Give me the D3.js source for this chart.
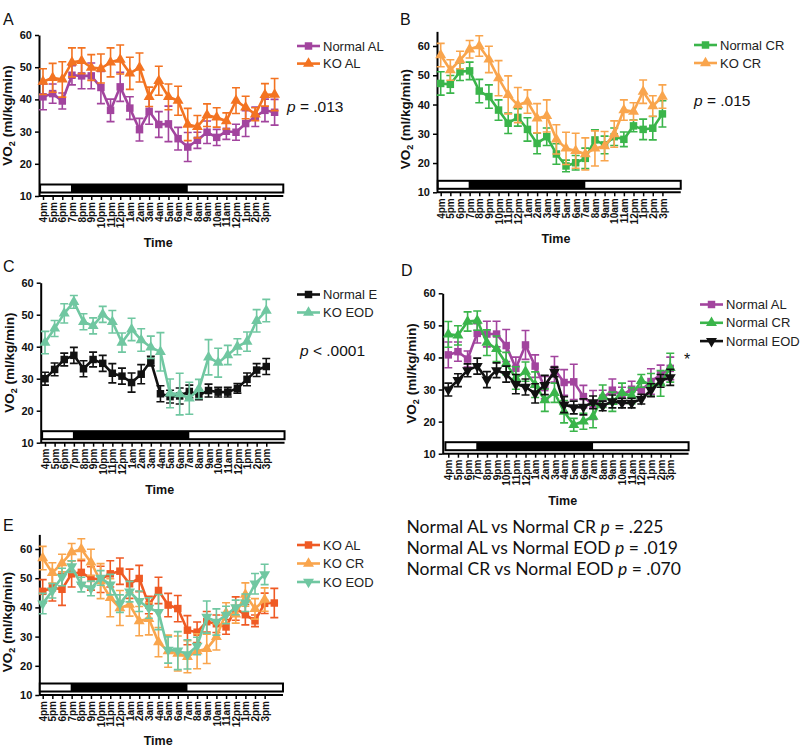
<!DOCTYPE html>
<html><head><meta charset="utf-8">
<script src="https://cdn.jsdelivr.net/npm/d3@7"></script>
<style>body{margin:0;background:#fff}svg{display:block;font-family:"Liberation Sans",Arial,sans-serif}</style>
</head><body><svg id="c" width="800" height="748"></svg>
<script>
const hours = ["4pm","5pm","6pm","7pm","8pm","9pm","10pm","11pm","12pm","1am","2am","3am","4am","5am","6am","7am","8am","9am","10am","11am","12pm","1pm","2pm","3pm"];
const yTicks = [10,20,30,40,50,60];

const normalAL    = [40.8,41.8,39.5,47.5,47.3,47.3,43.7,36.6,43.9,37.3,30.6,36.3,32.2,32.4,27.8,25.2,27.3,29.8,28.2,30.1,29.8,32.5,34.6,36.6,36.0];
const normalALsem = [4,3,2.5,3,4,4,5,3.5,4.5,3.5,3.5,4,4,5.5,3.5,4.5,2.5,3.5,2.5,2.5,2.5,4,3,3.5,4];
const koAL        = [45.5,46.7,46.2,51.5,52.0,49.9,49.6,51.5,52.4,48.1,49.9,40.8,45.8,40.8,39.6,32.2,31.5,35.1,34.4,33.3,39.6,37.5,35.4,41.4,41.5];
const koALsem     = [4,4.5,5.5,4.5,4,4,4.5,4.5,4.5,5,4.5,3,4.5,4,4.5,5,3.5,3.5,3,2.5,4,3.5,2,3.5,5];
const normalCR    = [47.2,46.9,51.2,51.5,44.6,42.7,38.1,33.6,35.6,31.5,26.7,29.0,23.1,19.0,20.1,21.6,27.9,26.2,29.0,28.1,32.7,31.5,31.9,36.8];
const normalCRsem = [4,3,3,3,4,4,3.5,3.5,3,4,3.5,3,3.5,2,2.5,3.5,3.5,3,3,2.5,2,3.5,4,4.5];
const koCR        = [56.9,51.8,55.2,58.9,60.0,55.4,49.0,43.3,39.8,41.0,35.3,36.1,28.1,25.0,24.2,23.1,25.0,25.8,29.9,38.1,37.6,44.4,39.5,42.7];
const koCRsem     = [4,3.5,3,3,3.5,4.5,6,6.5,6,4,5,5.5,5,5.5,6,5.5,6,5,4.5,3.5,3,4,3.5,4];
const normalEOD   = [30.0,32.9,36.0,37.3,33.1,36.0,34.8,31.7,30.8,28.8,31.4,35.5,25.3,24.4,24.6,26.0,24.9,26.3,25.8,25.8,27.0,29.8,32.7,33.8];
const normalEODsem= [2,2,2,2.5,2.5,2.3,2.5,3,2.5,3,3,1.5,2.5,2,2.5,2,1.5,2,1.5,1.5,1.5,2,2,2.5];
const koEOD       = [41.3,45.7,50.4,54.0,47.8,46.5,50.1,47.8,41.3,45.4,42.1,39.8,38.4,25.4,25.2,23.9,26.8,36.7,35.0,37.4,40.0,41.6,48.1,51.3];
const koEODsem    = [3.5,2.5,3,2,2.5,2.5,2.5,3.5,3,3.5,3.5,3.5,6,4.5,6.5,5,3,5.5,4.5,3,2.5,3,3.5,3.5];

const svg = d3.select("#c");
const C = {purple:"#A2449E", orangeA:"#F37321", green:"#3AB54A", orangeL:"#F9A54D", teal:"#70C7A1", black:"#111", red:"#EF5A24"};

function sym(shape){
  if(shape==="square") return d3.symbol(d3.symbolSquare, 56)();
  return d3.symbol(d3.symbolTriangle, 52)();
}
function symRot(shape){ return shape==="down" ? " rotate(180)" : ""; }

function panel(cfg){
  const g = svg.append("g");
  const y60 = cfg.y60, y10 = cfg.y10;
  const yTop = y10 + (y60 - y10) * (cfg.max - 10) / 50;
  const y = d3.scaleLinear().domain([10, cfg.max]).range([y10, yTop]);
  const x = d3.scaleLinear().domain([0, 23]).range([cfg.x0, cfg.x0 + 23 * cfg.step]);

  g.append("text").attr("x", cfg.letterX).attr("y", cfg.letterY).attr("font-size", 16).attr("fill","#111").text(cfg.letter);

  const ya = g.append("g").attr("transform", `translate(${cfg.ax},0)`)
    .call(d3.axisLeft(y).tickValues(yTicks).tickSize(4).tickSizeOuter(0).tickPadding(3));
  ya.select(".domain").attr("stroke","#000").attr("stroke-width",2);
  ya.selectAll(".tick line").attr("stroke","#000").attr("stroke-width",1.5);
  ya.selectAll(".tick text").attr("font-size",11).attr("font-weight","bold").attr("fill","#111").attr("font-family",'"Liberation Sans",Arial,sans-serif');

  const yt = g.append("text").attr("transform", `translate(${cfg.ax - 27},${(y10 + y60)/2}) rotate(-90)`)
    .attr("text-anchor","middle").attr("font-size",13.5).attr("font-weight","bold").attr("fill","#111");
  yt.append("tspan").text("VO");
  yt.append("tspan").attr("font-size",9).attr("dy",3).text("2");
  yt.append("tspan").attr("dy",-3).text(" (ml/kg/min)");

  const xa = g.append("g").attr("transform", `translate(0,${y10})`)
    .call(d3.axisBottom(x).tickValues(d3.range(24)).tickFormat(i => hours[i]).tickSize(4).tickSizeOuter(0));
  xa.select(".domain").attr("d", `M${cfg.ax},0H${x(24.9)}`).attr("stroke","#000").attr("stroke-width",2);
  xa.selectAll(".tick line").attr("stroke","#000").attr("stroke-width",1.5);
  xa.selectAll(".tick text").attr("transform","rotate(-90)").attr("text-anchor","end")
    .attr("x",-6).attr("y",0).attr("dy","0.36em").attr("font-size",10).attr("font-weight","bold").attr("fill","#111")
    .attr("font-family",'"Liberation Sans",Arial,sans-serif');

  g.append("text").attr("x", (cfg.ax + x(24.9))/2 - 3).attr("y", y10 + (cfg.timeDy || 51)).attr("text-anchor","middle")
    .attr("font-size",12.5).attr("font-weight","bold").attr("fill","#111").text("Time");

  const bt = y10 - 11.5, bh = 8;
  g.append("rect").attr("x", x(-0.3)).attr("y", bt).attr("width", x(24.9) - x(-0.3)).attr("height", bh)
    .attr("fill","#fff").attr("stroke","#000").attr("stroke-width",2);
  g.append("rect").attr("x", x(2.9)).attr("y", bt).attr("width", x(15) - x(2.9)).attr("height", bh).attr("fill","#000");

  cfg.series.forEach(s => {
    const vals = s.values.slice(0, s.n || s.values.length);
    const sem = s.sem.slice(0, vals.length);
    const sg = g.append("g");
    vals.forEach((v,i) => {
      const px = x(i), yl = y(v - sem[i]), yh = y(v + sem[i]);
      sg.append("path").attr("d", `M${px},${yl}V${yh}M${px-4},${yl}H${px+4}M${px-4},${yh}H${px+4}`)
        .attr("stroke", s.color).attr("stroke-width",1.6).attr("fill","none");
    });
    sg.append("path").datum(vals).attr("d", d3.line().x((d,i)=>x(i)).y(d=>y(d)))
      .attr("fill","none").attr("stroke", s.color).attr("stroke-width",2.6).attr("stroke-linejoin","round");
    sg.selectAll(".m").data(vals).join("path").attr("d", sym(s.shape))
      .attr("transform",(d,i)=>`translate(${x(i)},${y(d)})${symRot(s.shape)}`).attr("fill", s.color);
  });

  cfg.series.forEach((s, k) => {
    const ly = cfg.ly + k * cfg.lgap;
    g.append("line").attr("x1", cfg.lx).attr("x2", cfg.lx + 23).attr("y1", ly).attr("y2", ly)
      .attr("stroke", s.color).attr("stroke-width",2.6);
    g.append("path").attr("d", sym(s.shape)).attr("transform", `translate(${cfg.lx + 11.5},${ly})${symRot(s.shape)}`).attr("fill", s.color);
    g.append("text").attr("x", cfg.lx + 26).attr("y", ly).attr("dy","0.36em").attr("font-size",13).attr("fill","#222").text(s.name);
  });

  if (cfg.p) {
    const t = g.append("text").attr("x", cfg.p.x).attr("y", cfg.p.y).attr("font-size",15.5).attr("fill","#111");
    t.append("tspan").attr("font-style","italic").text("p");
    t.append("tspan").text(cfg.p.text);
  }
  if (cfg.star) {
    g.append("text").attr("x", cfg.star.x).attr("y", cfg.star.y).attr("font-size",16).attr("fill","#111").attr("text-anchor","middle").text("*");
  }
}

panel({letter:"A", letterX:3, letterY:25, ax:39, y60:35, y10:196, max:60, x0:43, step:9.65,
  lx:297, ly:46, lgap:17.6,
  series:[
    {name:"Normal AL", values:normalAL, sem:normalALsem, color:C.purple, shape:"square"},
    {name:"KO AL", values:koAL, sem:koALsem, color:C.orangeA, shape:"tri"}],
  p:{x:287, y:111.5, text:" =  .013"}});

panel({letter:"B", letterX:400, letterY:25, ax:437, y60:46, y10:192.3, max:65, x0:440.7, step:9.64,
  lx:694, ly:45, lgap:18,
  series:[
    {name:"Normal CR", values:normalCR, sem:normalCRsem, color:C.green, shape:"square"},
    {name:"KO CR", values:koCR, sem:koCRsem, color:C.orangeL, shape:"tri"}],
  p:{x:694, y:106, text:" =  .015"}});

panel({letter:"C", letterX:3, letterY:272, ax:40.7, y60:282.7, y10:442.7, max:60, x0:45, step:9.62,
  lx:297, ly:294.5, lgap:18,
  series:[
    {name:"Normal E", values:normalEOD, sem:normalEODsem, color:C.black, shape:"square"},
    {name:"KO EOD", values:koEOD, sem:koEODsem, color:C.teal, shape:"tri"}],
  p:{x:300, y:356, text:" < .0001"}});

panel({letter:"D", letterX:401, letterY:276, ax:442.7, y60:293.3, y10:453.7, max:60, x0:448.3, step:9.65,
  lx:700, ly:304.5, lgap:18.3,
  series:[
    {name:"Normal AL", values:normalAL, sem:normalALsem, color:C.purple, shape:"square", n:24},
    {name:"Normal CR", values:normalCR, sem:normalCRsem, color:C.green, shape:"tri"},
    {name:"Normal EOD", values:normalEOD, sem:normalEODsem, color:C.black, shape:"down"}],
  star:{x:687, y:365}});

panel({letter:"E", letterX:3, letterY:531, ax:39.3, y60:549, y10:695, max:65, x0:42.7, step:9.65, timeDy:49.5,
  lx:297, ly:545, lgap:18.5,
  series:[
    {name:"KO AL", values:koAL, sem:koALsem, color:C.red, shape:"square"},
    {name:"KO CR", values:koCR, sem:koCRsem, color:C.orangeL, shape:"tri"},
    {name:"KO EOD", values:koEOD, sem:koEODsem, color:C.teal, shape:"down"}]});

const comps = [["Normal AL vs Normal CR ", " =  .225"], ["Normal AL vs Normal EOD ", " = .019"], ["Normal CR vs Normal EOD ", " = .070"]];
comps.forEach((c, k) => {
  const t = svg.append("text").attr("x", 406.5).attr("y", 533 + k * 21).attr("font-size", 17.5)
    .attr("font-family", 'Lato, "Open Sans", sans-serif').attr("fill", "#111");
  t.append("tspan").text(c[0]);
  t.append("tspan").attr("font-style","italic").text("p");
  t.append("tspan").text(c[1]);
});
</script></body></html>
